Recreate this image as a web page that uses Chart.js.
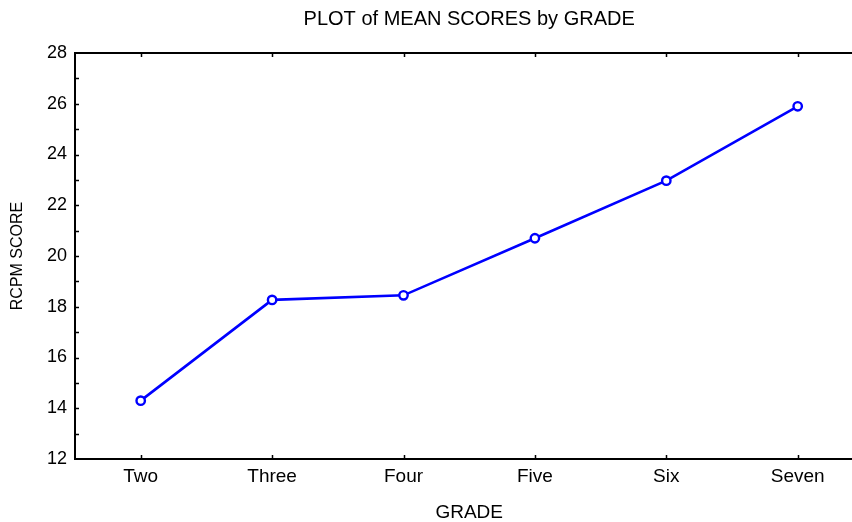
<!DOCTYPE html>
<html>
<head>
<meta charset="utf-8">
<script src="https://cdn.jsdelivr.net/npm/chart.js@4.4.1/dist/chart.umd.min.js"></script>
<style>
  html, body { margin: 0; padding: 0; background: #fff; overflow: hidden; }
  #wrap { width: 870px; height: 522px; }
</style>
</head>
<body>
<div id="wrap"><canvas id="chart" width="870" height="522"></canvas></div>
<script>
// Chart data
const grades = ['Two', 'Three', 'Four', 'Five', 'Six', 'Seven'];
const meanScores = [14.3, 18.27, 18.45, 20.7, 22.97, 25.9];
const yMin = 12;
const yMax = 28;
const yStep = 2;

const FONT = "'Liberation Sans', Arial, Helvetica, sans-serif";

// Inward tick marks + top frame line
const insideTicks = {
  id: 'insideTicks',
  afterDraw(chart) {
    const ctx = chart.ctx;
    const area = chart.chartArea;
    const x = chart.scales.x;
    const y = chart.scales.y;
    ctx.save();
    ctx.strokeStyle = '#000';
    ctx.lineWidth = 2;
    // top frame line
    ctx.beginPath();
    ctx.moveTo(area.left - 1, area.top);
    ctx.lineTo(area.right, area.top);
    ctx.stroke();
    ctx.lineWidth = 1.5;
    // category ticks on bottom and top
    grades.forEach(function(g, i) {
      const px = Math.round(x.getPixelForTick(i)) + 0.5;
      ctx.beginPath();
      ctx.moveTo(px, area.bottom);
      ctx.lineTo(px, area.bottom - 4);
      ctx.moveTo(px, area.top);
      ctx.lineTo(px, area.top + 4);
      ctx.stroke();
    });
    // major and minor ticks on the y axis
    for (let v = yMin + 1; v < yMax; v++) {
      const py = Math.round(y.getPixelForValue(v)) + 0.5;
      ctx.beginPath();
      ctx.moveTo(area.left, py);
      ctx.lineTo(area.left + 4, py);
      ctx.stroke();
    }
    ctx.restore();
  }
};

const ctx = document.getElementById('chart').getContext('2d');

new Chart(ctx, {
  type: 'line',
  data: {
    labels: grades,
    datasets: [{
      label: 'Mean score',
      data: meanScores,
      borderColor: '#0000ff',
      borderWidth: 2.6,
      backgroundColor: '#ffffff',
      pointBackgroundColor: '#ffffff',
      pointBorderColor: '#0000ff',
      pointBorderWidth: 2.4,
      pointRadius: 4.2,
      tension: 0,
      fill: false
    }]
  },
  options: {
    responsive: false,
    animation: false,
    devicePixelRatio: 1,
    layout: { padding: { left: 0, right: 1, top: 0, bottom: 0 } },
    plugins: {
      legend: { display: false },
      tooltip: { enabled: false },
      title: {
        display: true,
        text: 'PLOT of MEAN SCORES by GRADE',
        color: '#000',
        fullSize: false,
        font: { family: FONT, size: 20, weight: 'normal' },
        padding: { top: 7, bottom: 22 }
      }
    },
    scales: {
      x: {
        type: 'category',
        offset: true,
        grid: { display: false, drawTicks: false },
        border: { display: true, color: '#000', width: 2 },
        ticks: {
          color: '#000',
          padding: 6,
          font: { family: FONT, size: 19 }
        },
        title: {
          display: true,
          text: 'GRADE',
          color: '#000',
          font: { family: FONT, size: 19 },
          padding: { top: 0, bottom: -2 }
        },
        afterFit: function(scale) { scale.height = 63; }
      },
      y: {
        min: yMin,
        max: yMax,
        grid: { display: false, drawTicks: false },
        border: { display: true, color: '#000', width: 2 },
        ticks: {
          stepSize: yStep,
          color: '#000',
          padding: 8,
          font: { family: FONT, size: 18 }
        },
        title: {
          display: true,
          text: 'RCPM SCORE',
          color: '#000',
          font: { family: FONT, size: 16 },
          padding: { top: 8, bottom: 0 }
        },
        afterFit: function(scale) { scale.width = 75; }
      }
    }
  },
  plugins: [insideTicks]
});
</script>
</body>
</html>
